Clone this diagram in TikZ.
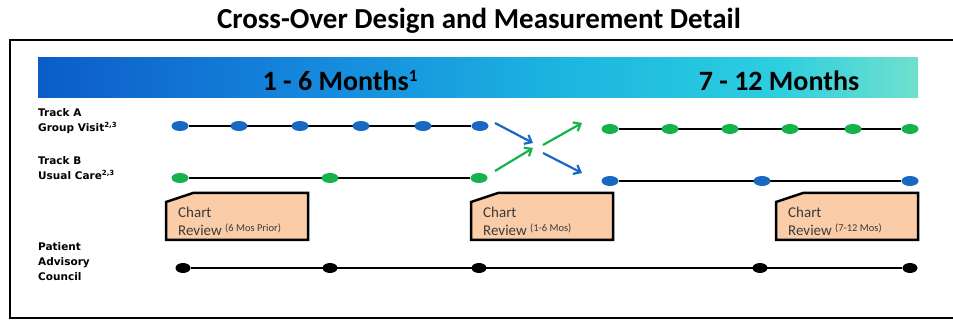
\documentclass[tikz,border=0pt]{standalone}
\usepackage{fontspec}
\setmainfont{Carlito}
\newfontfamily\labelfont{DejaVu Sans}
\usetikzlibrary{arrows.meta,positioning,shapes.geometric,backgrounds}
\definecolor{barA}{RGB}{12,92,200}
\definecolor{barB}{RGB}{22,140,222}
\definecolor{barC}{RGB}{28,182,224}
\definecolor{barD}{RGB}{44,206,224}
\definecolor{barE}{RGB}{112,224,204}
\definecolor{visit}{RGB}{24,104,196}
\definecolor{usual}{RGB}{22,178,76}
\definecolor{chart}{RGB}{250,204,168}
\definecolor{ink}{RGB}{60,60,60}
\pgfdeclarehorizontalshading{monthbar}{100bp}{color(0bp)=(barA); color(25bp)=(barA);
  color(42bp)=(barB); color(55bp)=(barC); color(67bp)=(barD); color(75bp)=(barE);
  color(100bp)=(barE)}

\begin{document}
\begin{tikzpicture}[x=1pt,y=1pt,
  dot/.style={ellipse,minimum width=17pt,minimum height=10pt,inner sep=0pt},
  track/.style={draw=black,line width=2pt},
  lbl/.style={font=\labelfont\bfseries\fontsize{10.5}{15.3}\selectfont,align=left,
              anchor=north west,inner sep=0pt},
  flow/.style={line width=2.2pt,-{Straight Barb[length=6pt,width=10pt]}},
  months/.style={font=\bfseries\fontsize{28}{32}\selectfont}]
  \useasboundingbox (0,0) rectangle (953,320);

  % heading and frame
  \node (title) [font=\bfseries\fontsize{29}{34}\selectfont] at (479,299)
    {Cross-Over Design and Measurement Detail};
  \draw[line width=2pt] (960,280) -- (10,280) -- (10,2) -- (960,2);

  % period bar
  \shade[shading=monthbar] (38,222) rectangle (918,262);
  \node (m1) [months] at (340,239)
    {1 - 6 Months{\fontsize{17}{20}\selectfont\raisebox{9pt}{1}}};
  \node (m2) [months] at (779,239) {7 - 12 Months};

  % row labels
  \node (la) [lbl] at (38,212) {Track A\\Group Visit{\fontsize{7}{8}\selectfont\raisebox{4pt}{2,3}}};
  \node (lb) [lbl] at (38,164) {Track B\\Usual Care{\fontsize{7}{8}\selectfont\raisebox{4pt}{2,3}}};
  \node (lc) [lbl] at (38,78) {Patient\\Advisory\\Council};

  % track A: group visits, then usual care
  \foreach \x [count=\i] in {180,239,300,361,423,480}
    \node (a\i) [dot,fill=visit] at (\x,194) {};
  \foreach \x [count=\i] in {610,670,730,790,853,910}
    \node (c\i) [dot,fill=usual] at (\x,191) {};
  % track B: usual care, then group visits
  \foreach \x [count=\i] in {180,330,479}
    \node (b\i) [dot,fill=usual] at (\x,142) {};
  \foreach \x [count=\i] in {610,762,910}
    \node (d\i) [dot,fill=visit] at (\x,139) {};
  % advisory council meetings
  \foreach \x [count=\i] in {183,330,479,760,910}
    \node (p\i) [dot,fill=black,minimum width=15pt] at (\x,52) {};

  \begin{pgfonlayer}{background}
    \draw[track] (a1) -- (a6);
    \draw[track] (c1) -- (c6);
    \draw[track] (b1) -- (b3);
    \draw[track] (d1) -- (d3);
    \draw[track] (p1) -- (p5);
  \end{pgfonlayer}

  % cross-over arrows
  \coordinate (xa) at (495,197);
  \coordinate (xb) at (495,149);
  \coordinate (ya) at (533,177);
  \coordinate (yb) at (533,172);
  \coordinate (za) at (543,175);
  \coordinate (zb) at (543,167);
  \coordinate (wa) at (582,197);
  \coordinate (wb) at (582,147);
  \draw[flow,visit] (xa) -- (ya);
  \draw[flow,usual] (xb) -- (yb);
  \draw[flow,usual] (za) -- (wa);
  \draw[flow,visit] (zb) -- (wb);

  % chart review boxes
  \foreach \x/\nm/\per in {166/r1/6 Mos Prior,471/r2/1-6 Mos,776/r3/7-12 Mos}{
    \draw[fill=chart,line width=2.5pt,line join=miter]
      (\x,118) -- (\x+27,127) -- (\x+142,127) -- (\x+142,80) -- (\x,80) -- cycle;
    \node (\nm) [anchor=north west,align=left,inner sep=0pt,text=ink,
      font=\fontsize{15}{18}\selectfont] at (\x+12,113)
      {Chart\\Review {\fontsize{10.5}{11}\selectfont\raisebox{4pt}{(\per)}}};
  }
\end{tikzpicture}
\end{document}
